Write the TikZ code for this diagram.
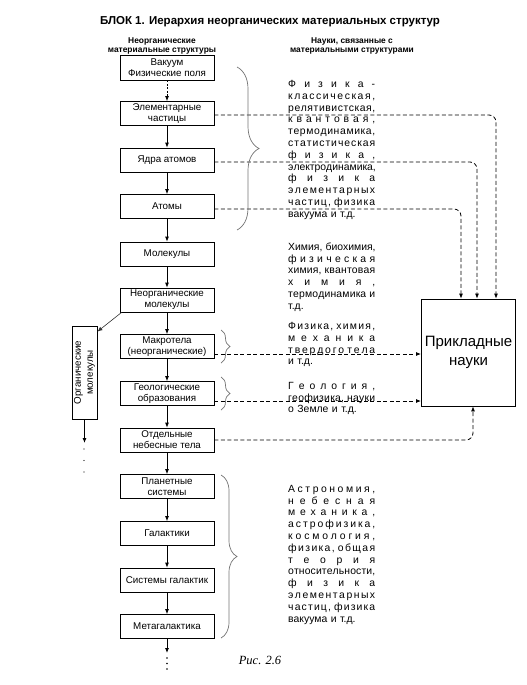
\documentclass[tikz,border=0pt]{standalone}
\usepackage{fontspec}
\setmainfont{Liberation Sans}
\newfontfamily\serifit{Liberation Serif}
\newfontfamily\scifont{Liberation Sans}
\usetikzlibrary{arrows.meta,decorations.pathreplacing,calc}
\newlength\colw
\setlength\colw{87pt}
\makeatletter
\def\lsp#1{\leavevmode\hbox to\colw{\lsp@a#1\@nil}}
\def\lsp@a#1#2\@nil{#1\if\relax\detokenize{#2}\relax\else\hfill\lsp@a#2\@nil\fi}
\def\lin#1{\lsp@a#1\@nil}
\newcommand\wsp[2]{\leavevmode\hbox to\colw{\lin{#1}\hskip .3em plus 6fil\lin{#2}}}
\makeatother
\begin{document}
\begin{tikzpicture}[x=1pt,y=-1pt,
 box/.style={draw,line width=0.8pt,minimum width=94pt,minimum height=24pt,inner sep=1pt,align=center,font=\fontsize{9.8}{11}\selectfont},
 arr/.style={-{Latex[length=5pt,width=4pt]},line width=0.8pt},
 dline/.style={arr,dash pattern=on 4pt off 2.5pt,rounded corners=7pt},
 brc/.style={decorate,draw=black!55,line width=0.7pt},
 sci/.style={anchor=north west,inner sep=0pt,text width=87pt,align=left,font=\scifont\fontsize{10.4}{11.8}\selectfont},
 hdr/.style={font=\bfseries\fontsize{8.4}{9}\selectfont,align=center,inner sep=0pt},
]
\useasboundingbox (0,0) rectangle (527,685);

% title and headers
\node[font=\bfseries\fontsize{11.5}{13}\selectfont,inner sep=0pt] (title) at (270,22) {БЛОК 1. Иерархия неорганических материальных структур};
\node[hdr] (h1) at (162,46) {Неорганические\\материальные структуры};
\node[hdr] (h2) at (352,46) {Науки, связанные с\\материальными структурами};

% left column
\node[box,minimum height=25pt] (vac) at (167,67.5) {Вакуум\\Физические поля};
\node[box] (elem) at (167,113.5) {Элементарные\\частицы};
\node[box] (nuc) at (167,160) {Ядра атомов};
\node[box] (atom) at (167,206.5) {Атомы};
\node[box] (mol) at (167,254) {Молекулы};
\node[box] (inorg) at (167,300) {Неорганические\\молекулы};
\node[box] (macro) at (167,346.5) {Макротела\\(неорганические)};
\node[box] (geo) at (167,393.5) {Геологические\\образования};
\node[box] (cel) at (167,440) {Отдельные\\небесные тела};
\node[box] (plan) at (167,486.5) {Планетные\\системы};
\node[box] (gal) at (167,533.5) {Галактики};
\node[box] (sysg) at (167,580) {Системы галактик};
\node[box] (meta) at (167,626.5) {Метагалактика};

\draw[arr,dash pattern=on 2pt off 1.5pt] (vac) -- (elem);
\foreach \a/\b in {elem/nuc,nuc/atom,atom/mol,mol/inorg,inorg/macro,macro/geo,geo/cel,cel/plan,plan/gal,gal/sysg,sysg/meta}
  \draw[arr] (\a) -- (\b);
\coordinate (metaend) at (167,653);
\draw[arr] (meta) -- (metaend);
\foreach \yy in {658,663.5,669} \fill (167,\yy) circle (0.9pt);

% organic molecules
\node[draw,line width=0.8pt,minimum width=93pt,minimum height=25pt,inner sep=1pt,rotate=90,align=center,font=\fontsize{9.8}{12}\selectfont] (org) at (84.5,372.5) {Органические\\молекулы};
\draw[arr,line width=0.6pt,draw=black!80] ([xshift=2pt]inorg.south west) -- ([yshift=-6pt]org.south east);
\coordinate (orgend) at (84.5,443);
\draw[arr] (org.west) -- (orgend);
\foreach \yy in {449,460.5,472} \fill (84,\yy) circle (0.6pt);

% applied sciences
\node[draw,line width=0.8pt,minimum width=93pt,minimum height=107pt,align=center,font=\fontsize{15}{18.5}\selectfont] (appl) at (468.5,352.5) {Прикладные\\науки};

% dashed connectors
\coordinate (v1) at (496,115);
\coordinate (v2) at (477,162);
\coordinate (v3) at (461,209);
\draw[dline] (elem.east |- v1) -| (appl.north -| v1);
\draw[dline] (nuc.east |- v2) -| (appl.north -| v2);
\draw[dline] (atom.east |- v3) -| (appl.north -| v3);
\coordinate (m1) at ([yshift=-7.5pt]macro.east);
\coordinate (m2) at ([yshift=-7.5pt]geo.east);
\draw[dline] (m1) -- (m1 -| appl.west);
\draw[dline] (m2) -- (m2 -| appl.west);
\draw[dline] (cel.east) -| ([xshift=4.5pt]appl.south);

% braces
\draw[brc,decoration={brace,amplitude=22pt}] (237,67) -- (237,230);
\draw[brc,decoration={brace,amplitude=9pt}] (221,330) -- (221,363);
\draw[brc,decoration={brace,amplitude=9pt}] (221,377) -- (221,410);
\draw[brc,decoration={brace,amplitude=16pt}] (221,475) -- (221,638);

% science texts
\node[sci] (tphys) at (288,80) {\lsp{Физика-}\\\lsp{классическая,}\\\lsp{релятивистская,}\\\lsp{квантовая,}\\\lsp{термодинамика,}\\\lsp{статистическая}\\\lsp{физика,}\\\lsp{электродинамика,}\\\lsp{физика}\\\lsp{элементарных}\\\wsp{частиц,}{физика}\\вакуума и т.д.};
\node[sci] (tchem) at (288,242.5) {\wsp{Химия,}{биохимия,}\\\lsp{физическая}\\\wsp{химия,}{квантовая}\\\lsp{химия,}\\\wsp{термодинамика}{и}\\т.д.};
\node[sci] (tmech) at (288,322) {\wsp{Физика,}{химия,}\\\lsp{механика}\\\wsp{твердого}{тела}\\и т.д.};
\node[sci] (tgeo) at (288,382) {\lsp{Геология,}\\\wsp{геофизика,}{науки}\\о Земле и т.д.};
\node[sci] (tastro) at (288,485) {\lsp{Астрономия,}\\\lsp{небесная}\\\lsp{механика,}\\\lsp{астрофизика,}\\\lsp{космология,}\\\wsp{физика,}{общая}\\\lsp{теория}\\\lsp{относительности,}\\\lsp{физика}\\\lsp{элементарных}\\\wsp{частиц,}{физика}\\вакуума и т.д.};

\node[font=\serifit\itshape\fontsize{12.5}{14}\selectfont,inner sep=0pt] (cap) at (260,660) {Рис. 2.6};
\end{tikzpicture}
\end{document}
